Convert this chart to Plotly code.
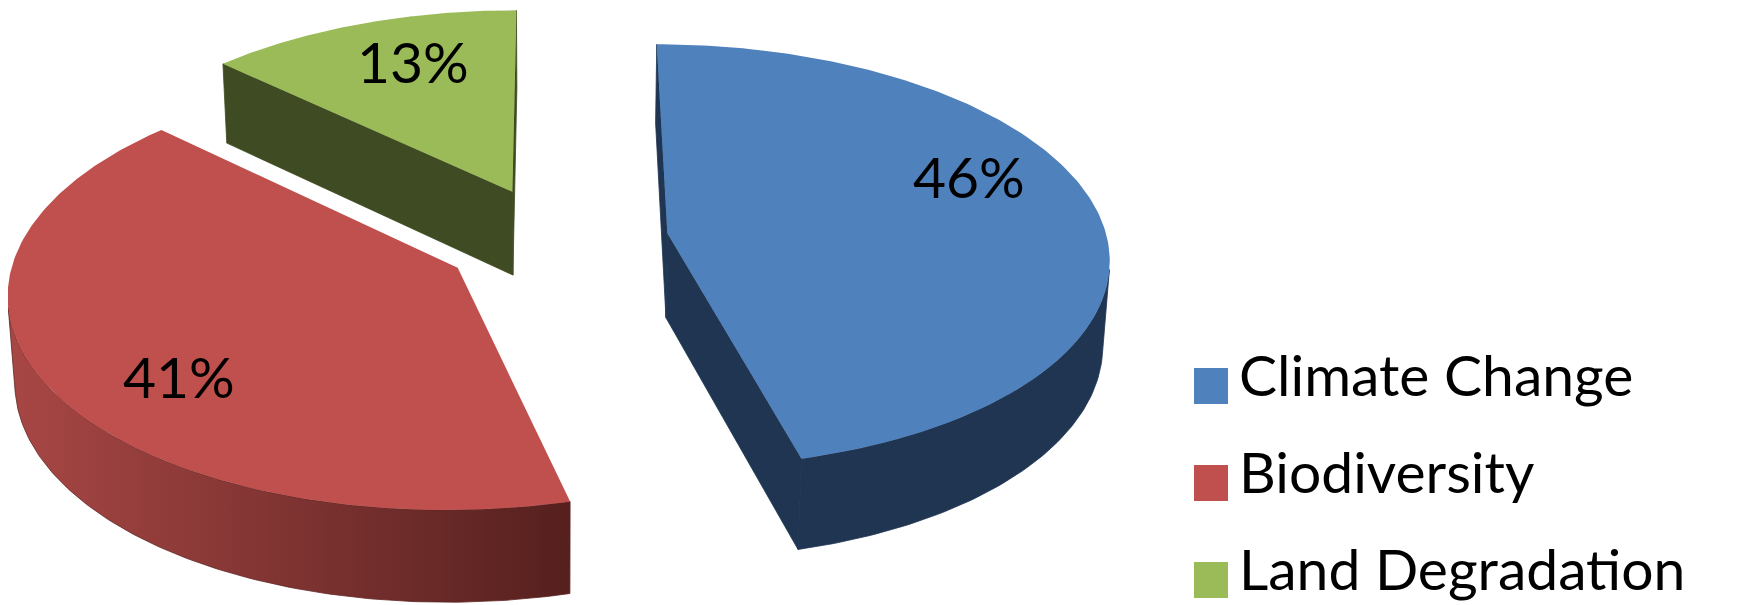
import numpy as np
import plotly.graph_objects as go

# ---- data ----
categories = ["Climate Change", "Biodiversity", "Land Degradation"]
values = [46, 41, 13]
label_text = [f"{v}%" for v in values]

# ---- styles ----
top_colors = ["#4F81BD", "#C0504D", "#9BBB59"]
side_colors = ["#1F3552", "#5E2422", "#3F4B22"]
red_wall_gradient = [[0, "#A84745"], [1, "#55201E"]]
FONT = "Lato, Open Sans, sans-serif"
FONT_SIZE = 57
TEXT_SHIFT = 12            # lift text so glyphs sit like the reference

# ---- projection (layout constants, in pixels of the 1739x605 canvas) ----
W, H = 1739, 605
X0, Y0 = 548.0, 232.0      # screen position of pie centre (top face)
F = 3652.0                 # focal scale
D = 8.3                    # camera distance (in pie radii)
PHI = np.arcsin(0.478)     # elevation angle
SIN, COS = np.sin(PHI), np.cos(PHI)
DEPTH = 0.222              # pie thickness (radii)
EXPLODE = 0.256            # explode distance (radii)
LABEL_POS = [(961, 180), (171, 380), (405, 65)]
CAM = np.array([0.0, -D * COS, D * SIN])


def proj(u, v, w):
    u = np.asarray(u, float); v = np.asarray(v, float); w = np.asarray(w, float)
    up = v * SIN + w * COS
    z = D + v * COS - w * SIN
    return X0 + F * u / z, Y0 - F * up / z


fig = go.Figure()


def add_poly(xs, ys, color=None, gradient=None, lw=0.0):
    kw = dict(x=list(xs) + [xs[0]], y=list(ys) + [ys[0]], mode="lines", fill="toself",
              line=dict(width=lw, color=color if color else "rgba(0,0,0,0)"),
              hoverinfo="skip", showlegend=False)
    if gradient is not None:
        kw["fillgradient"] = dict(type="horizontal", colorscale=gradient)
    else:
        kw["fillcolor"] = color
    fig.add_trace(go.Scatter(**kw))


total = float(sum(values))
bounds = np.concatenate([[0.0], np.cumsum(values) / total * 2 * np.pi])

side_faces = []
top_faces = []
for i in range(len(values)):
    a0, a1 = bounds[i], bounds[i + 1]
    mid = 0.5 * (a0 + a1)
    ou, ov = EXPLODE * np.sin(mid), EXPLODE * np.cos(mid)
    th = np.linspace(a0, a1, 200)
    ru, rv = ou + np.sin(th), ov + np.cos(th)

    # top face
    tx, ty = proj(np.r_[ou, ru], np.r_[ov, rv], np.zeros(len(th) + 1))
    top_faces.append((tx, ty, top_colors[i]))

    # outer wall (visible part)
    vis = np.sin(th) * (CAM[0] - ru) + np.cos(th) * (CAM[1] - rv) > 0
    if vis.any():
        idx = np.where(vis)[0]
        segs = np.split(idx, np.where(np.diff(idx) > 1)[0] + 1)
        for s in segs:
            if len(s) < 2:
                continue
            ux, vy = ru[s], rv[s]
            xt, yt = proj(ux, vy, np.zeros(len(s)))
            xb, yb = proj(ux, vy, -DEPTH * np.ones(len(s)))
            xs = np.r_[xt, xb[::-1]]
            ys = np.r_[yt, yb[::-1]]
            grad = red_wall_gradient if i == 1 else None
            side_faces.append((xs, ys, side_colors[i], grad))

    # cut faces
    for ang, sgn in ((a0, -1), (a1, 1)):
        n = np.array([sgn * np.cos(ang), -sgn * np.sin(ang)])
        if n @ np.array([CAM[0] - ou, CAM[1] - ov]) > 0:
            pu = np.array([ou, ou + np.sin(ang), ou + np.sin(ang), ou])
            pv = np.array([ov, ov + np.cos(ang), ov + np.cos(ang), ov])
            pw = np.array([0, 0, -DEPTH, -DEPTH])
            xs, ys = proj(pu, pv, pw)
            side_faces.append((xs, ys, side_colors[i], None))

for xs, ys, c, g in side_faces:
    add_poly(xs, ys, color=c, gradient=g, lw=0.8)
for xs, ys, c in top_faces:
    add_poly(xs, ys, color=c, lw=0)

# percentage labels
for (lx, ly), t in zip(LABEL_POS, label_text):
    fig.add_annotation(x=lx, y=ly, text=t, showarrow=False, xanchor="center", yanchor="middle",
                       yshift=TEXT_SHIFT,
                       font=dict(family=FONT, size=FONT_SIZE, color="#000000"))

# legend (drawn manually to match the large swatches)
LEG_X0, LEG_SW = 1186, 34
LEG_TEXT_X = 1229
LEG_Y = [378, 475, 572]
for cat, col, y in zip(categories, top_colors, LEG_Y):
    fig.add_shape(type="rect", x0=LEG_X0, x1=LEG_X0 + LEG_SW, y0=y - 18, y1=y + 18,
                  xref="x", yref="y", fillcolor=col, line=dict(width=0))
    fig.add_annotation(x=LEG_TEXT_X, y=y, text=cat, showarrow=False, xanchor="left", yanchor="middle",
                       yshift=TEXT_SHIFT,
                       font=dict(family=FONT, size=FONT_SIZE, color="#000000"))

fig.update_layout(
    width=W, height=H, margin=dict(l=0, r=0, t=0, b=0),
    paper_bgcolor="white", plot_bgcolor="white", showlegend=False,
    xaxis=dict(range=[0, W], visible=False, fixedrange=True),
    yaxis=dict(range=[H, 0], visible=False, fixedrange=True),
)
fig.write_html("out.html")
